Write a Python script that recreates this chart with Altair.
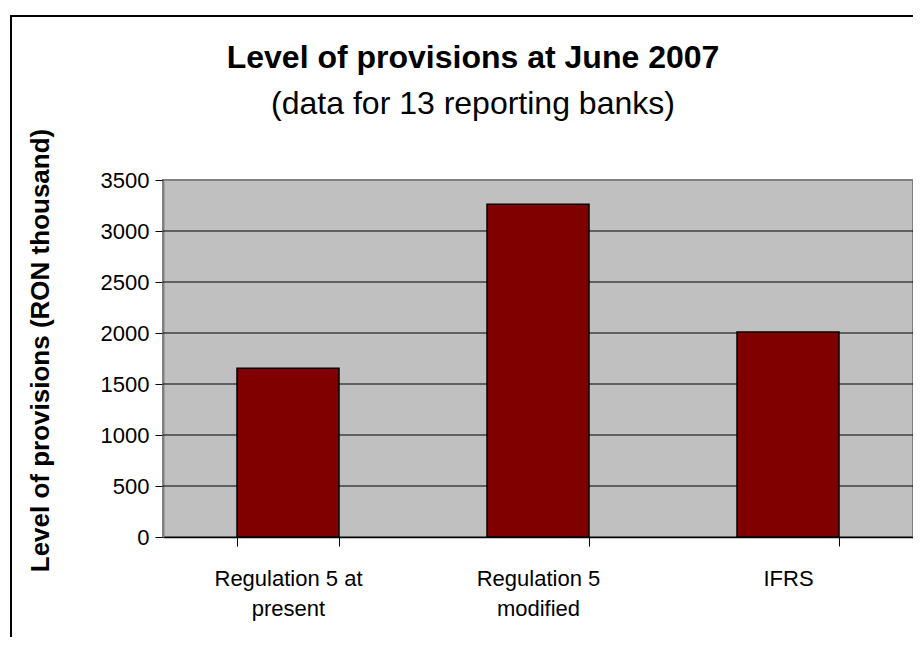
import altair as alt
import pandas as pd

categories = ["Regulation 5 at present", "Regulation 5 modified", "IFRS"]
provisions = [1655, 3262, 2010]
label_lines = {
    "Regulation 5 at present": ["Regulation 5 at", "present"],
    "Regulation 5 modified": ["Regulation 5", "modified"],
    "IFRS": ["IFRS"],
}
y_ticks = [0, 500, 1000, 1500, 2000, 2500, 3000, 3500]
grid_values = [500, 1000, 1500, 2000, 2500, 3000]

FONT = "Liberation Sans"

df = pd.DataFrame({"category": categories, "value": provisions})
grid_df = pd.DataFrame({"value": grid_values})

label_expr = " : ".join(
    f"datum.value == '{k}' ? {v!r}" for k, v in label_lines.items()
) + " : datum.label"

x_axis = alt.Axis(
    title=None,
    labelAngle=0,
    labelFont=FONT,
    labelFontSize=22,
    labelColor="black",
    labelLineHeight=30,
    labelPadding=22,
    labelExpr=label_expr,
    tickBand="extent",
    tickSize=9,
    tickColor="black",
    tickWidth=1,
    domainColor="black",
    domainWidth=1.5,
    labelLimit=400,
)

y_axis = alt.Axis(
    values=y_ticks,
    format="d",
    grid=False,
    labelFont=FONT,
    labelFontSize=22,
    labelColor="black",
    labelPadding=6,
    tickSize=8,
    tickColor="black",
    tickWidth=1,
    domainColor="#808080",
    domainWidth=2,
    title="Level of provisions (RON thousand)",
    titleFont=FONT,
    titleFontSize=26,
    titleFontWeight="bold",
    titleColor="black",
    titleAngle=-90,
    titleX=-115,
    titleY=170,
    titleBaseline="alphabetic",
    titleAlign="center",
)

y_scale = alt.Scale(domain=[0, 3500], nice=False)

frame = alt.Chart(df).mark_rect(
    fill="transparent", stroke="black", strokeWidth=1.5, clip=False
).encode(
    x=alt.value(-152), x2=alt.value(790), y=alt.value(-164), y2=alt.value(520)
)

grid = alt.Chart(grid_df).mark_rule(color="black", strokeWidth=1).encode(
    y=alt.Y("value:Q", scale=y_scale, axis=y_axis)
)

bars = alt.Chart(df).mark_bar(
    color="#800000", stroke="black", strokeWidth=1.5
).encode(
    x=alt.X(
        "category:N",
        sort=categories,
        scale=alt.Scale(paddingInner=0.592, paddingOuter=0.296),
        axis=x_axis,
    ),
    y=alt.Y("value:Q", scale=y_scale, axis=y_axis),
)

chart = alt.layer(frame, grid, bars).properties(
    width=750,
    height=357,
    padding={"left": 155, "top": 172, "right": 0, "bottom": 100},
    autosize=alt.AutoSizeParams(type="none"),
    background="white",
    title=alt.TitleParams(
        text="Level of provisions at June 2007",
        subtitle="(data for 13 reporting banks)",
        font=FONT,
        fontSize=32,
        fontWeight="bold",
        color="black",
        subtitleFont=FONT,
        subtitleFontSize=32,
        subtitleFontWeight="normal",
        subtitleColor="black",
        subtitlePadding=14,
        anchor="middle",
        dx=-65,
        dy=106,
        offset=0,
    ),
).configure_view(
    fill="#C0C0C0", stroke="#808080", strokeWidth=2
)

chart.save("out.html", embed_options={"renderer": "svg", "actions": False})
